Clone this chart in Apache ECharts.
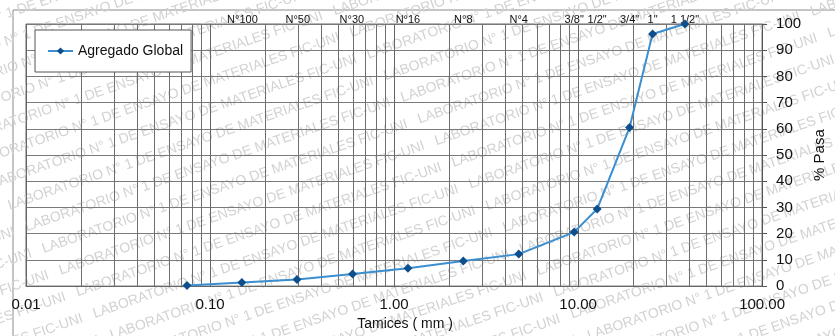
<!DOCTYPE html>
<html>
<head>
<meta charset="utf-8">
<script src="https://cdn.jsdelivr.net/npm/echarts@6/dist/echarts.min.js"></script>
<style>
  html, body { margin: 0; padding: 0; background: #ffffff; }
  #chart { width: 835px; height: 336px; }
</style>
</head>
<body>
<div id="chart"></div>
<script>
// ---- data ----
const sieveSizes = [0.075, 0.149, 0.297, 0.595, 1.19, 2.38, 4.76, 9.525, 12.7, 19.05, 25.4, 38.1];
const percentPassing = [0.2, 1.4, 2.5, 4.6, 6.8, 9.6, 12.2, 20.6, 29.4, 60.5, 96.2, 100];
const topLabelSizes = [0.149, 0.297, 0.595, 1.19, 2.38, 4.76, 9.525, 12.7, 19.05, 25.4, 38.1];
const topLabelNames = ['N°100', 'N°50', 'N°30', 'N°16', 'N°8', 'N°4', '3/8"', '1/2"', '3/4"', '1"', '1 1/2"'];
const decades = [0.01, 0.1, 1, 10];
const minorMultipliers = [2, 3, 4, 5, 6, 7, 8, 9];
const seriesName = 'Agregado Global';
const xAxisTitle = 'Tamices ( mm )';
const yAxisTitle = '% Pasa';
const watermark = 'LABORATORIO N° 1 DE ENSAYO DE MATERIALES FIC-UNI   ';

const FONT = 'Liberation Sans, Arial, sans-serif';
const chart = echarts.init(document.getElementById('chart'), null, { renderer: 'canvas' });

const minorLines = [];
decades.forEach(d => minorMultipliers.forEach(m => minorLines.push({ xAxis: +(d * m).toPrecision(3) })));

const topLabels = topLabelSizes.map((v, i) => ({
  xAxis: v,
  label: { show: true, formatter: topLabelNames[i] }
}));

// watermark lines (decoration)
const wmChildren = [];
for (let i = -18; i <= 18; i++) {
  wmChildren.push({
    type: 'text',
    x: -760 + ((i * 9) % 380),
    y: i * 26,
    style: { text: watermark.repeat(5), fill: '#d2d2d2', font: '14px ' + FONT }
  });
}

const option = {
  backgroundColor: '#ffffff',
  animation: false,
  graphic: [
    { type: 'group', x: 417, y: 168, rotation: 19 * Math.PI / 180, silent: true, z: -10, children: wmChildren },
    { type: 'rect', shape: { x: 13, y: 10, width: 850, height: 340 }, style: { fill: 'none', stroke: '#8a8a8a', lineWidth: 1 }, silent: true, z: -5 }
  ],
  grid: { left: 26, right: 65, top: 24, bottom: 39, show: true, borderColor: '#666', borderWidth: 1, backgroundColor: 'transparent' },
  legend: {
    data: [seriesName],
    left: 35, top: 30,
    orient: 'vertical',
    padding: [14, 8, 14, 12],
    itemWidth: 25, itemHeight: 9, itemGap: 0,
    backgroundColor: '#ffffff',
    borderColor: '#555', borderWidth: 1,
    textStyle: { fontFamily: FONT, fontSize: 14, color: '#111' }
  },
  xAxis: {
    type: 'log', logBase: 10, min: 0.01, max: 100,
    name: xAxisTitle, nameLocation: 'middle', nameGap: 25,
    nameTextStyle: { fontFamily: FONT, fontSize: 14, color: '#111', padding: [0, 0, 0, 22] },
    axisLine: { show: true, lineStyle: { color: '#666', width: 1 } },
    axisTick: { show: false },
    axisLabel: { fontFamily: FONT, fontSize: 15, color: '#111', margin: 11, formatter: v => v.toFixed(2) },
    splitLine: { show: true, lineStyle: { color: '#666', width: 1 } },
    minorTick: { show: false },
    minorSplitLine: { show: false }
  },
  yAxis: {
    type: 'value', position: 'right', min: 0, max: 100, interval: 10,
    name: yAxisTitle, nameLocation: 'middle', nameGap: 45, nameRotate: 90,
    nameTextStyle: { fontFamily: FONT, fontSize: 15, color: '#111' },
    axisLine: { show: true, lineStyle: { color: '#555', width: 1 } },
    axisTick: { show: true, inside: false, length: 5, lineStyle: { color: '#555' } },
    axisLabel: { fontFamily: FONT, fontSize: 15, color: '#111', margin: 14 },
    splitLine: { show: true, lineStyle: { color: '#7a7a7a', width: 1 } }
  },
  series: [
    {
      name: 'minor-grid',
      type: 'line',
      data: [],
      silent: true,
      markLine: {
        silent: true, symbol: 'none', z: 1, animation: false,
        lineStyle: { color: '#6e6e6e', width: 1, type: 'solid' },
        label: { show: false },
        data: minorLines
      }
    },
    {
      name: 'sieve-labels',
      type: 'line',
      data: [],
      silent: true,
      markLine: {
        silent: true, symbol: 'none', z: 1, animation: false,
        lineStyle: { color: 'rgba(0,0,0,0)', width: 1 },
        label: { show: true, position: 'end', distance: -1, fontFamily: FONT, fontSize: 11, color: '#111' },
        data: topLabels
      }
    },
    {
      name: seriesName,
      type: 'line',
      z: 5,
      data: sieveSizes.map((s, i) => [s, percentPassing[i]]),
      symbol: 'diamond', symbolSize: 9,
      lineStyle: { color: '#3b8fd0', width: 2 },
      itemStyle: { color: '#0d4f8c' }
    }
  ]
};
chart.setOption(option);
</script>
</body>
</html>
